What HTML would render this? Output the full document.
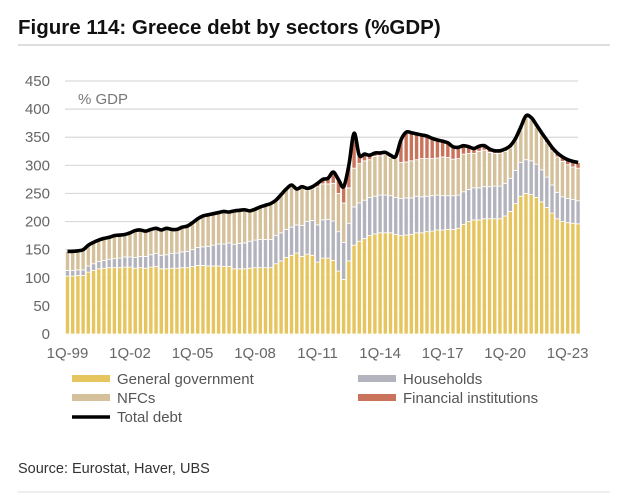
<!DOCTYPE html>
<html><head><meta charset="utf-8">
<style>
body{margin:0;background:#fff;width:624px;height:497px;overflow:hidden;font-family:"Liberation Sans",sans-serif}
</style></head>
<body>
<svg id="c" width="624" height="497" xmlns="http://www.w3.org/2000/svg">
<text x="18" y="34" font-size="20.5" font-weight="bold" fill="#111">Figure 114: Greece debt by sectors (%GDP)</text>
<line x1="18" y1="45" x2="610" y2="45" stroke="#bbb" stroke-width="1"/>
<g id="grid"></g>
<g id="yt"></g>
<g id="xt"></g>
<g id="bars"></g>
<path id="tot" fill="none" stroke="#000" stroke-width="3.6" stroke-linejoin="round"/>
<text x="78" y="104" font-size="15" fill="#777">% GDP</text>
<g font-size="15" fill="#555">
<g><rect x="72" y="375" width="38" height="7" fill="#E6C45E"/><text x="117" y="384">General government</text></g>
<g><rect x="358" y="375" width="38" height="7" fill="#B3B3BD"/><text x="403" y="384">Households</text></g>
<g><rect x="72" y="394" width="38" height="7" fill="#D4C09A"/><text x="117" y="403">NFCs</text></g>
<g><rect x="358" y="394" width="38" height="7" fill="#C8735A"/><text x="403" y="403">Financial institutions</text></g>
<g><line x1="72" y1="417" x2="110" y2="417" stroke="#000" stroke-width="3.5"/><text x="117" y="422">Total debt</text></g>
</g>
<text x="18" y="473" font-size="14.5" fill="#333">Source: Eurostat, Haver, UBS</text>
<line x1="18" y1="492" x2="610" y2="492" stroke="#ddd" stroke-width="1"/>
</svg>
<script>
const gov=[103,103,104,104,110,113,116,117,118,118,118,119,119,117,118,117,119,120,116,116,117,117,118,118,120,122,122,121,121,121,120,120,116,116,116,117,118,118,118,118,125,130,136,140,144,138,142,140,128,135,135,131,112,97,130,158,165,170,175,178,180,180,180,177,175,176,177,180,180,182,183,185,185,186,186,188,195,200,203,203,205,205,205,205,210,218,232,245,250,248,243,235,225,215,205,200,198,197,196];
const hh=[10,10,10,10,11,12,13,14,15,16,17,18,18,19,20,21,22,23,24,25,26,27,28,29,30,32,33,35,37,39,40,42,43,45,46,48,49,50,50,50,50,50,50,50,50,55,58,62,66,68,69,70,70,66,67,68,68,68,68,67,67,67,66,66,66,66,65,65,64,63,63,62,61,60,60,59,58,57,57,57,57,57,58,58,58,59,59,60,60,60,59,57,54,50,47,44,43,42,41];
const nfc=[34,34,34,36,37,38,38,39,39,41,41,40,43,48,47,45,45,45,45,47,43,42,44,45,48,51,55,56,56,56,58,55,60,59,59,54,55,58,61,64,63,68,72,75,64,67,56,56,68,64,63,67,68,70,63,69,70,70,67,71,70,72,68,69,64,64,66,65,68,67,66,66,69,68,65,65,67,64,61,65,65,61,58,58,57,54,53,59,74,73,66,62,61,61,63,63,60,58,58];
const fin=[0,0,0,0,0,0,0,0,0,0,0,0,0,0,0,0,0,0,0,0,0,0,0,0,0,0,0,0,0,0,0,0,0,0,0,0,0,0,0,0,0,0,0,0,0,2,3,4,6,8,10,20,25,29,40,62,15,12,8,6,5,4,4,4,40,53,50,46,42,40,36,32,28,26,22,20,15,12,9,9,8,6,5,5,4,4,4,4,4,4,4,4,5,6,7,8,9,10,10];
const total=[147,147,148,150,158,163,167,170,172,175,176,177,180,184,185,183,186,188,185,188,186,186,190,192,198,205,210,212,214,216,218,217,219,220,221,219,222,226,229,232,238,248,258,265,258,262,259,262,268,275,277,288,275,262,300,357,318,320,318,322,322,323,318,316,345,359,358,356,354,352,348,345,343,340,333,332,335,333,330,334,335,329,326,326,329,335,348,368,388,385,372,358,345,332,322,315,310,307,305];
const yTicks=[0,50,100,150,200,250,300,350,400,450];
const xLabels=["1Q-99","1Q-02","1Q-05","1Q-08","1Q-11","1Q-14","1Q-17","1Q-20","1Q-23"];
const xLabelIdx=[0,12,24,36,48,60,72,84,96];

const NS="http://www.w3.org/2000/svg";
const y=v=>334-v*(253/450);
const x=i=>67.5+i*5.21;
function mk(t,a,p){const e=document.createElementNS(NS,t);for(const k in a)e.setAttribute(k,a[k]);p.appendChild(e);return e;}
const grid=document.getElementById('grid'),yt=document.getElementById('yt'),xt=document.getElementById('xt'),bars=document.getElementById('bars');
yTicks.forEach(v=>{
 if(v>0){const l=mk('line',{x1:65,x2:578,y1:y(v),y2:y(v),stroke:'#d9d9d9','stroke-width':1.2},grid);
 
 }
 const t=mk('text',{x:50,y:y(v)+5,'text-anchor':'end','font-size':15,fill:'#666'},yt);t.textContent=v;
 
 
});
xLabels.forEach((s,k)=>{const t=mk('text',{x:x(xLabelIdx[k]),y:358,'text-anchor':'middle','font-size':15,fill:'#666'},xt);t.textContent=s;
 
 });
const series=[[gov,'#E6C45E','gov'],[hh,'#B3B3BD','households'],[nfc,'#D4C09A','nfcs'],[fin,'#C8735A','financial']];
gov.forEach((_,i)=>{let base=0;
 series.forEach(([arr,col,nm])=>{const v=arr[i];if(v<=0)return;
  const r=mk('rect',{x:x(i)-2.1,y:y(base+v),width:4.2,height:y(base)-y(base+v),fill:col,stroke:'#fff','stroke-width':0.8},bars);
  
  
  base+=v;});
});
const pts=total.map((v,i)=>[x(i),y(v)]);
let d='M'+pts[0][0]+','+pts[0][1];
for(let i=0;i<pts.length-1;i++){const p0=pts[Math.max(0,i-1)],p1=pts[i],p2=pts[i+1],p3=pts[Math.min(pts.length-1,i+2)];
 const c1=[p1[0]+(p2[0]-p0[0])/6,p1[1]+(p2[1]-p0[1])/6],c2=[p2[0]-(p3[0]-p1[0])/6,p2[1]-(p3[1]-p1[1])/6];
 d+=`C${c1[0]},${c1[1]} ${c2[0]},${c2[1]} ${p2[0]},${p2[1]}`;}
document.getElementById('tot').setAttribute('d',d);
</script>
</body></html>
